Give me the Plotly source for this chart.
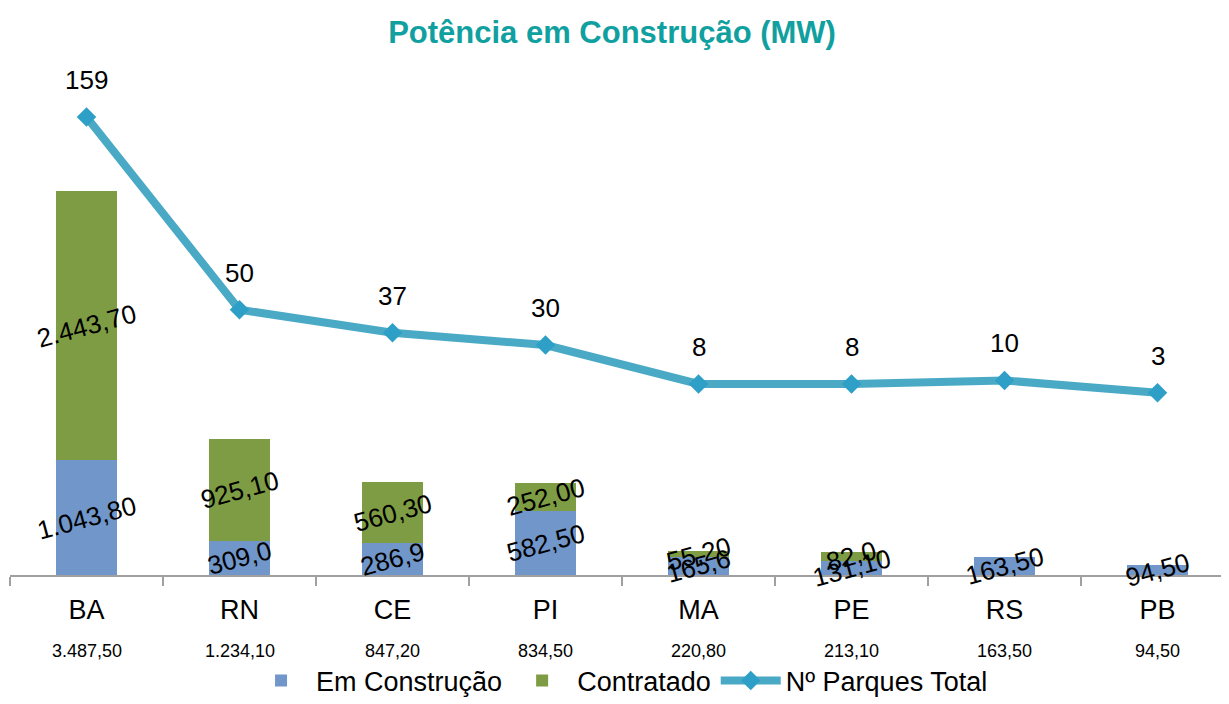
import plotly.graph_objects as go

# ---- data ----
categories = ["BA", "RN", "CE", "PI", "MA", "PE", "RS", "PB"]
totals_text = ["3.487,50", "1.234,10", "847,20", "834,50", "220,80", "213,10", "163,50", "94,50"]
em_construcao = [1043.80, 309.0, 286.9, 582.50, 165.6, 131.10, 163.50, 94.50]
em_construcao_text = ["1.043,80", "309,0", "286,9", "582,50", "165,6", "131,10", "163,50", "94,50"]
contratado = [2443.70, 925.10, 560.30, 252.00, 55.20, 82.0, 0, 0]
contratado_text = ["2.443,70", "925,10", "560,30", "252,00", "55,20", "82,0", "", ""]
parques = [159, 50, 37, 30, 8, 8, 10, 3]

FONT = "Liberation Sans, Arial, sans-serif"
BLUE = "#7096CA"
GREEN = "#7E9C44"
LINE = "#4AAAC5"

fig = go.Figure()
fig.add_trace(go.Bar(x=categories, y=em_construcao, name="Em Construção",
                     marker=dict(color=BLUE, line=dict(width=0)), width=0.4,
                     hoverinfo="skip"))
fig.add_trace(go.Bar(x=categories, y=contratado, name="Contratado",
                     marker=dict(color=GREEN, line=dict(width=0)), width=0.4,
                     hoverinfo="skip"))
fig.add_trace(go.Scatter(x=categories, y=parques, name="Nº Parques Total", yaxis="y2",
                         mode="lines+markers",
                         line=dict(color=LINE, width=8),
                         marker=dict(symbol="diamond", size=15, color="#2E9FC6"),
                         hoverinfo="skip"))

annotations = []
# bar value labels (rotated, centred in each segment)
for c, v, t in zip(categories, em_construcao, em_construcao_text):
    annotations.append(dict(x=c, y=v / 2, xref="x", yref="y", text=t, showarrow=False,
                            textangle=-15, font=dict(family=FONT, size=26, color="black")))
for c, b, v, t in zip(categories, em_construcao, contratado, contratado_text):
    if t:
        annotations.append(dict(x=c, y=b + v / 2, xref="x", yref="y", text=t, showarrow=False,
                                textangle=-15, font=dict(family=FONT, size=26, color="black")))
# line labels
for c, p in zip(categories, parques):
    annotations.append(dict(x=c, y=p, xref="x", yref="y2", text=str(p), showarrow=False,
                            yshift=37, font=dict(family=FONT, size=26, color="black")))
# totals under category names
for c, t in zip(categories, totals_text):
    annotations.append(dict(x=c, y=-0.152, xref="x", yref="paper", yanchor="middle",
                            text=t, showarrow=False,
                            font=dict(family=FONT, size=18, color="black")))

fig.update_layout(
    width=1229, height=704,
    margin=dict(l=2, r=3, t=67, b=137, autoexpand=False),
    paper_bgcolor="white", plot_bgcolor="white",
    barmode="stack",
    title=dict(text="<b>Potência em Construção (MW)</b>", x=0.4915, xanchor="center",
               y=1 - 24 / 704, yanchor="middle",
               font=dict(family=FONT, size=31, color="#11A0A0")),
    xaxis=dict(type="category", range=[-0.5, 7.5], showgrid=False, automargin=False,
               showline=True, linecolor="#A0A0A0", linewidth=2,
               ticks="outside", tickson="boundaries", ticklen=9, tickcolor="#A0A0A0", tickwidth=2,
               tickfont=dict(family=FONT, size=27, color="black"), ticklabelstandoff=10),
    yaxis=dict(range=[0, 4545], visible=False, showgrid=False, zeroline=False, automargin=False),
    yaxis2=dict(range=[-100, 182.7], overlaying="y", side="right", visible=False,
                showgrid=False, zeroline=False, automargin=False),
    legend=dict(orientation="h", x=0.498, xanchor="center", y=-0.212, yanchor="middle",
                font=dict(family=FONT, size=27, color="black"), traceorder="normal",
                itemwidth=60),
    annotations=annotations,
    showlegend=True,
)

fig.write_html("out.html")
